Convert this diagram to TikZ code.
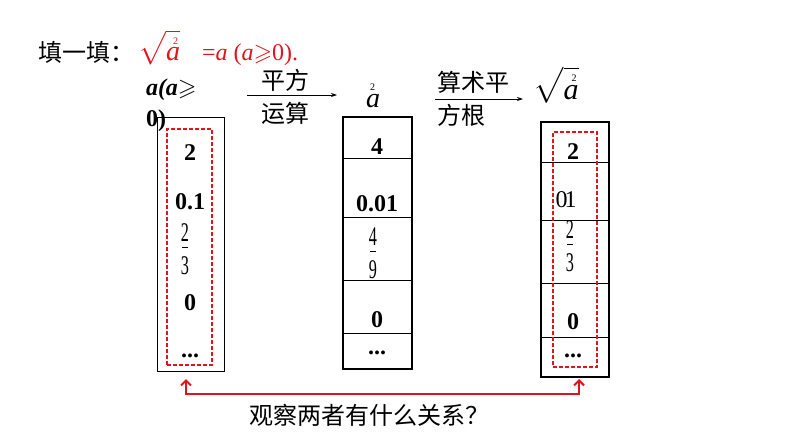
\documentclass[tikz,border=0pt]{standalone}
\usepackage{amssymb}
\usepackage{fontspec}
\setmainfont{Liberation Serif}
\newfontfamily\cjk{Noto Sans CJK SC}
\usetikzlibrary{arrows.meta}
\definecolor{myred}{RGB}{225,20,30}
\newcommand{\fsz}[1]{\fontsize{#1}{#1}\selectfont}
\newcommand{\nfrac}[2]{\scalebox{0.6}[1]{#1}\\[-21pt]\rule{6pt}{0.6pt}\\[0pt]\scalebox{0.6}[1]{#2}}
\begin{document}
\begin{tikzpicture}[x=1pt,y=-1pt,
  every node/.style={inner sep=0pt,outer sep=0pt},
  cn/.style={font=\cjk\fsz{24}},
  num/.style={font=\bfseries\fsz{24}},
  fr/.style={font=\fsz{27},align=center},
  box/.style={draw=black,minimum width=#1,inner sep=0pt},
  dbox/.style={draw=myred,dashed,dash pattern=on 4pt off 2pt,line width=1.3pt},
  arr/.style={-{Stealth[length=6pt,width=4pt]},line width=0.8pt},
  redarr/.style={{Straight Barb[length=5pt,width=10pt]}-{Straight Barb[length=5pt,width=10pt]},draw=myred,line width=2pt}
]
\useasboundingbox (0,0) rectangle (794,447);

% title
\node[cn,anchor=west] (title) at (38,52) {填一填：};
\node[anchor=west,text=myred,font=\fsz{24}] (formula) at (138,48)
  {\fsz{28}$\sqrt{\textit{a}\llap{\raisebox{0.6em}{\fsz{10}2\hspace{2pt}}}}$\fsz{24}\hspace{22pt}=\textit{a} (\textit{a}$\geqslant$0).};

% left heading
\node[anchor=west,font=\bfseries\itshape\fsz{24}] (lh1) at (146,90) {a(a$\geqslant$};
\node[anchor=west,font=\bfseries\fsz{24}] (lh2) at (146,121) {0)};

% first arrow
\coordinate (a1s) at (247,95);
\coordinate (a1e) at (337,95);
\draw[arr] (a1s) -- (a1e);
\node[cn] (pf) at (285,80) {平方};
\node[cn] (ys) at (285,113) {运算};

% a^2
\node[font=\itshape\fsz{28}] (asq) at (373,96) {a\llap{\raisebox{0.62em}{\upshape\fsz{10}2\hspace{5pt}}}};

% second arrow
\coordinate (a2s) at (435,99);
\coordinate (a2e) at (523,99);
\draw[arr] (a2s) -- (a2e);
\node[cn,anchor=west] (ss) at (437,82) {算术平};
\node[cn,anchor=west] (fg) at (437,115) {方根};

% sqrt a^2
\node[font=\fsz{30}] (sqa) at (556,85) {$\sqrt{\textit{a}\llap{\raisebox{0.6em}{\fsz{10}2\hspace{2pt}}}}$};

% left box
\node[box=67pt,minimum height=254pt,line width=0.8pt] (lbox) at (190.5,244) {};
\node[dbox,minimum width=45pt,minimum height=236pt] (ldash) at (189.5,247) {};
\node[num] (l1) at (190,153) {2};
\node[num] (l2) at (190,202) {0.1};
\node[fr] (l3) at (185,249.5) {\nfrac{2}{3}};
\node[num] (l4) at (190,303) {0};
\node[num] (l5) at (190,356) {...};

% middle box
\node[box=69pt,minimum height=252pt,line width=1.2pt] (mbox) at (377.5,243) {};
\foreach \yy in {158,217,280,333}
  \draw[line width=1pt] (343,\yy) -- (412,\yy);
\node[num] (m1) at (377,147) {4};
\node[num] (m2) at (377,204) {0.01};
\node[fr] (m3) at (373,253.5) {\nfrac{4}{9}};
\node[num] (m4) at (377,320) {0};
\node[num] (m5) at (377,353) {...};

% right box
\node[box=68pt,minimum height=255pt,line width=1.7pt] (rbox) at (575,249.5) {};
\foreach \yy in {162,220,283,337}
  \draw[line width=1pt] (541,\yy) -- (609,\yy);
\node[dbox,minimum width=44pt,minimum height=235pt] (rdash) at (575,249.5) {};
\node[num] (r1) at (573,152) {2};
\node[font=\fsz{24}] (r2) at (566,200) {0\hspace{-3pt}1};
\node[fr] (r3) at (570,246) {\nfrac{2}{3}};
\node[num] (r4) at (573,322) {0};
\node[num] (r5) at (573,356) {...};

% bottom red arrow
\coordinate (la) at (186,379);
\coordinate (ra) at (579,379);
\draw[redarr] (la) -- ++(0,15) -| (ra);
\node[cn] (q) at (369,415) {观察两者有什么关系？};
\end{tikzpicture}
\end{document}
